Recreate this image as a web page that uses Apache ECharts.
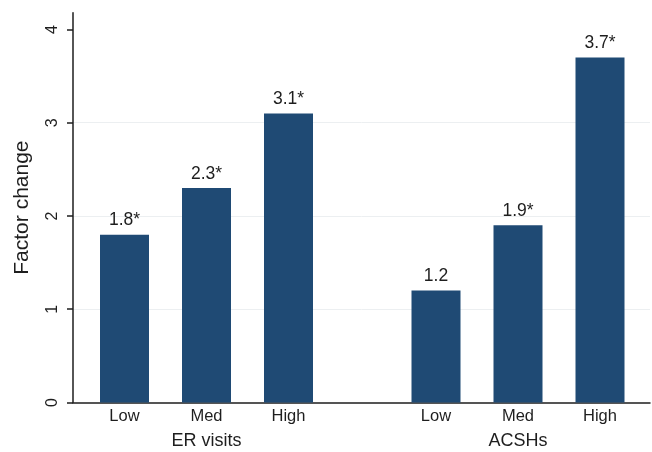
<!DOCTYPE html>
<html>
<head>
<meta charset="utf-8">
<script src="https://cdn.jsdelivr.net/npm/echarts@6/dist/echarts.min.js"></script>
<style>
html,body{margin:0;padding:0;background:#fff;}
#c{width:652px;height:452px;}
</style>
</head>
<body>
<div id="c"></div>
<script>
const categories = ['Low', 'Med', 'High'];
const groupNames = ['ER visits', 'ACSHs'];
const erValues = [1.8, 2.3, 3.1];
const acshValues = [1.2, 1.9, 3.7];
const erSignificant = [true, true, true];
const acshSignificant = [false, true, true];
const yTicks = [0, 1, 2, 3, 4];
const yTitle = 'Factor change';

const FONT = '"Liberation Sans", Arial, Helvetica, sans-serif';
const TEXT = '#1e1e1e';
const BAR = '#1f4a74';
const YMAX = 4.18;

function labelData(values, sig) {
  return values.map((v, i) => ({
    value: v,
    label: { formatter: v.toFixed(1) + (sig[i] ? '*' : '') }
  }));
}

const chart = echarts.init(document.getElementById('c'), null, { renderer: 'canvas' });

const gridTop = 12.7, gridBottom = 49.5;

const barSeries = (idx, values, sig) => ({
  type: 'bar',
  xAxisIndex: idx,
  yAxisIndex: idx,
  data: labelData(values, sig),
  barWidth: 49,
  itemStyle: { color: BAR },
  label: {
    show: true,
    position: 'top',
    distance: 5,
    color: TEXT,
    fontFamily: FONT,
    fontSize: 17.5
  },
  silent: true,
  animation: false
});

const catAxis = (idx) => ({
  gridIndex: idx, type: 'category', data: categories,
  axisLine: { show: false }, axisTick: { show: false },
  axisLabel: { color: TEXT, fontFamily: FONT, fontSize: 16.5, margin: 5 },
  name: groupNames[idx - 1], nameLocation: 'middle', nameGap: 30,
  nameTextStyle: { color: TEXT, fontFamily: FONT, fontSize: 18 }
});

const option = {
  animation: false,
  backgroundColor: '#fff',
  grid: [
    { left: 73, right: 2, top: gridTop, bottom: gridBottom, outerBoundsMode: 'none' },
    { left: 83.5, width: 246, top: gridTop, bottom: gridBottom, outerBoundsMode: 'none' },
    { left: 395, width: 246, top: gridTop, bottom: gridBottom, outerBoundsMode: 'none' }
  ],
  xAxis: [
    {
      gridIndex: 0, type: 'value', min: 0, max: 1,
      axisLine: { show: true, lineStyle: { color: TEXT, width: 1.5 } },
      axisTick: { show: false }, axisLabel: { show: false }, splitLine: { show: false }
    },
    catAxis(1),
    catAxis(2)
  ],
  yAxis: [
    {
      gridIndex: 0, type: 'value', min: 0, max: YMAX, interval: 1,
      axisLine: { show: true, lineStyle: { color: TEXT, width: 1.5 } },
      axisTick: { show: true, length: 6, customValues: yTicks, lineStyle: { color: TEXT, width: 1.5 } },
      axisLabel: { customValues: yTicks, rotate: 90, color: TEXT, fontFamily: FONT, fontSize: 16, margin: 12 },
      splitLine: { show: true, showMinLine: false, showMaxLine: false, lineStyle: { color: '#eceff1', width: 1 } },
      name: yTitle, nameLocation: 'middle', nameGap: 40,
      nameTextStyle: { color: TEXT, fontFamily: FONT, fontSize: 21 }
    },
    { gridIndex: 1, type: 'value', min: 0, max: YMAX, show: false },
    { gridIndex: 2, type: 'value', min: 0, max: YMAX, show: false }
  ],
  series: [
    barSeries(1, erValues, erSignificant),
    barSeries(2, acshValues, acshSignificant)
  ]
};
chart.setOption(option);
</script>
</body>
</html>
